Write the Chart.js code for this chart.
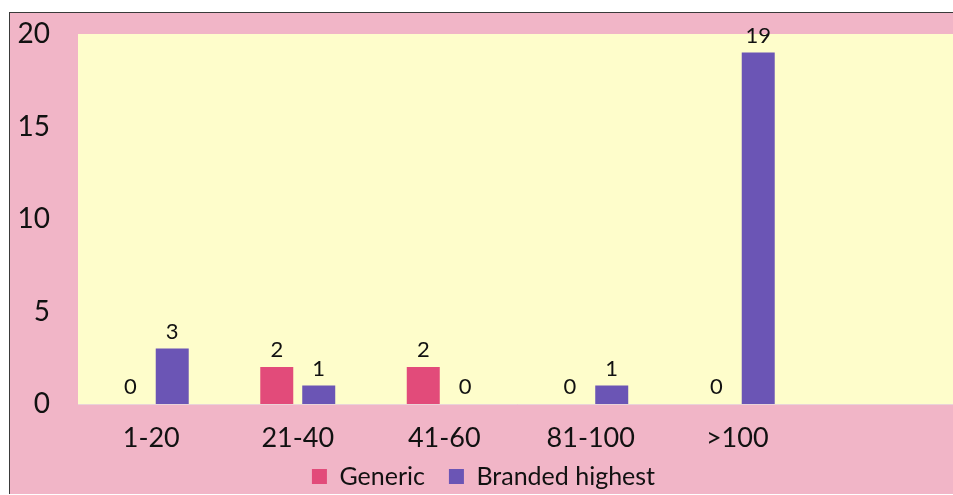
<!DOCTYPE html>
<html>
<head>
<meta charset="utf-8">
<script src="https://cdn.jsdelivr.net/npm/chart.js@4/dist/chart.umd.min.js"></script>
<style>
  html, body { margin: 0; padding: 0; background: #ffffff; overflow: hidden; width: 953px; height: 495px; }
  #frame {
    position: absolute; left: 9px; top: 12px;
    width: 950px; height: 481px;
    border-top: 1px solid #3a3a3a; border-left: 1px solid #3a3a3a;
    background: #f1b5c7;
  }
  #wrap { position: relative; width: 950px; height: 481px; }
</style>
</head>
<body>
<div id="frame"><div id="wrap"><canvas id="chart"></canvas></div></div>
<script>
// Price bands and number of products per band
const categories = ['1-20', '21-40', '41-60', '81-100', '>100', ''];
const genericValues = [0, 2, 2, 0, 0, null];
const brandedValues = [3, 1, 0, 1, 19, null];
const yTicks = [0, 5, 10, 15, 20];

const FONT = "Lato, 'DejaVu Sans', sans-serif";
const LEGEND_HEIGHT = 54;

// Pale yellow plot background and a faint base line
const plotBackground = {
  id: 'plotBackground',
  beforeDatasetsDraw(chart) {
    const { ctx, chartArea: a } = chart;
    ctx.save();
    ctx.fillStyle = '#fefdcb';
    ctx.fillRect(a.left, a.top, a.right - a.left, a.bottom - a.top);
    ctx.strokeStyle = '#ead3d8';
    ctx.lineWidth = 1;
    ctx.beginPath();
    ctx.moveTo(a.left, a.bottom + 0.5);
    ctx.lineTo(a.right, a.bottom + 0.5);
    ctx.stroke();
    ctx.restore();
  }
};

// Fixed legend band height, so the item spacing can stay wide
const legendBand = {
  id: 'legendBand',
  beforeLayout(chart) {
    const lg = chart.legend;
    if (lg && !lg._fixedBand) {
      const fit = lg.fit;
      lg.fit = function () { fit.call(this); this.height = LEGEND_HEIGHT; };
      lg._fixedBand = true;
    }
  }
};

// Value labels above each bar
const valueLabels = {
  id: 'valueLabels',
  afterDatasetsDraw(chart) {
    const { ctx } = chart;
    ctx.save();
    ctx.fillStyle = '#111111';
    ctx.font = '22px ' + FONT;
    ctx.textAlign = 'center';
    ctx.textBaseline = 'alphabetic';
    chart.data.datasets.forEach((ds, di) => {
      chart.getDatasetMeta(di).data.forEach((bar, i) => {
        const v = ds.data[i];
        if (v === null || v === undefined) return;
        ctx.fillText(String(v), bar.x, bar.y - 10);
      });
    });
    ctx.restore();
  }
};

new Chart(document.getElementById('chart'), {
  type: 'bar',
  data: {
    labels: categories,
    datasets: [
      { label: 'Generic', data: genericValues, backgroundColor: '#e24b7a', borderWidth: 0 },
      { label: 'Branded highest', data: brandedValues, backgroundColor: '#6b55b5', borderWidth: 0 }
    ]
  },
  options: {
    responsive: true,
    maintainAspectRatio: false,
    animation: false,
    categoryPercentage: 0.573,
    barPercentage: 0.786,
    layout: { padding: { left: 0, right: 3, top: 21, bottom: 0 } },
    scales: {
      x: {
        grid: { display: false, drawTicks: false },
        border: { display: false },
        afterFit(scale) {
          scale.height = 36;
          // let the band labels overlap the legend band instead of being clipped
          scale._computeLabelArea = () => undefined;
        },
        ticks: { color: '#111111', font: { family: FONT, size: 27 }, padding: 18, maxRotation: 0 }
      },
      y: {
        min: 0, max: 20,
        afterBuildTicks(scale) { scale.ticks = yTicks.map(v => ({ value: v })); },
        afterFit(scale) { scale.width = 68; },
        grid: { display: false, drawTicks: true, tickLength: 28 },
        border: { display: false },
        ticks: { color: '#111111', font: { family: FONT, size: 28 }, padding: 0 }
      }
    },
    plugins: {
      legend: {
        position: 'bottom',
        labels: { color: '#111111', font: { family: FONT, size: 25 }, boxWidth: 15, boxHeight: 15, padding: 24 }
      },
      tooltip: { enabled: false }
    }
  },
  plugins: [plotBackground, legendBand, valueLabels]
});
</script>
</body>
</html>
